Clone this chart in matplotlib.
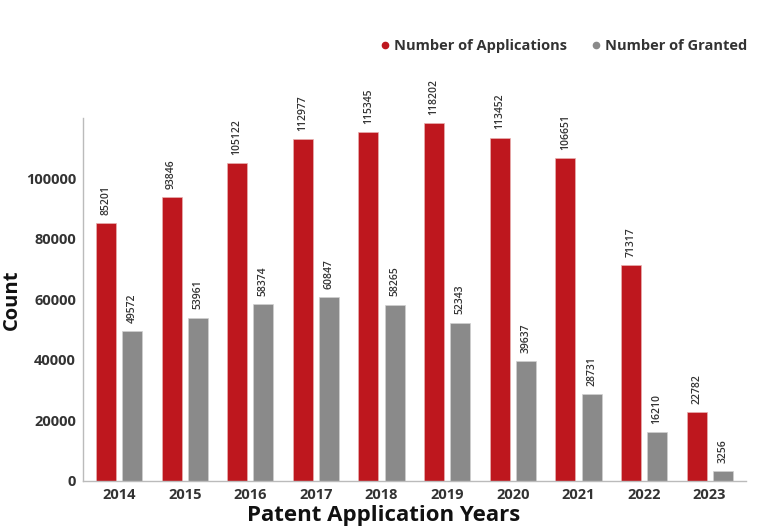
import matplotlib
matplotlib.use("Agg")
import matplotlib.pyplot as plt
from matplotlib.lines import Line2D
import numpy as np

years = ["2014", "2015", "2016", "2017", "2018", "2019", "2020", "2021", "2022", "2023"]
applications = [85201, 93846, 105122, 112977, 115345, 118202, 113452, 106651, 71317, 22782]
granted = [49572, 53961, 58374, 60847, 58265, 52343, 39637, 28731, 16210, 3256]

RED = "#BE171E"
GRAY = "#8A8A8A"
TXT = "#333333"

plt.rcParams['font.family'] = ['Open Sans', 'DejaVu Sans']

fig = plt.figure(figsize=(7.68, 5.27), dpi=100)
ax = fig.add_axes([0.108, 0.0873, 0.863, 0.689])

x = np.arange(len(years))
w = 0.305
off = 0.2
b1 = ax.bar(x - off, applications, width=w, color=RED, edgecolor="#e8b0b0", linewidth=0.5)
b2 = ax.bar(x + off, granted, width=w, color=GRAY, edgecolor="#d0d0d0", linewidth=0.5)

for bars, vals in ((b1, applications), (b2, granted)):
    for r, v in zip(bars, vals):
        ax.annotate(str(v), (r.get_x() + r.get_width() / 2, r.get_height()),
                    xytext=(0, 6), textcoords="offset points", rotation=90,
                    ha="center", va="bottom", fontsize=7.5, color=TXT, fontweight="semibold")

ax.set_xlim(-0.55, 9.55)
ax.set_ylim(0, 120000)
ax.set_yticks([0, 20000, 40000, 60000, 80000, 100000])
ax.set_xticks(x)
ax.set_xticklabels(years)
ax.tick_params(axis="both", length=0, labelsize=10.5, labelcolor=TXT)
ax.tick_params(axis="x", pad=5)
ax.tick_params(axis="y", pad=5)
for lab in ax.get_xticklabels() + ax.get_yticklabels():
    lab.set_fontweight("bold")

for s in ("top", "right"):
    ax.spines[s].set_visible(False)
for s in ("left", "bottom"):
    ax.spines[s].set_color("#bbbbbb")
    ax.spines[s].set_linewidth(1.0)

ax.set_ylabel("Count", fontsize=14.5, fontweight="bold", color="#111111", labelpad=3)
fig.text(0.5, 0.022, "Patent Application Years", fontsize=16, fontweight="bold",
         color="#111111", ha="center", va="center")

handles = [Line2D([], [], marker="o", linestyle="", color=RED, markersize=4.5),
           Line2D([], [], marker="o", linestyle="", color=GRAY, markersize=4.5)]
leg = fig.legend(handles, ["Number of Applications", "Number of Granted"],
                 loc="center right", bbox_to_anchor=(0.99, 0.913), ncol=2, frameon=False,
                 handletextpad=0.2, columnspacing=1.6, handlelength=0.8,
                 prop={"size": 10.5, "weight": "bold"})
for t in leg.get_texts():
    t.set_color(TXT)

fig.savefig("out.png", dpi=100, facecolor="white")
